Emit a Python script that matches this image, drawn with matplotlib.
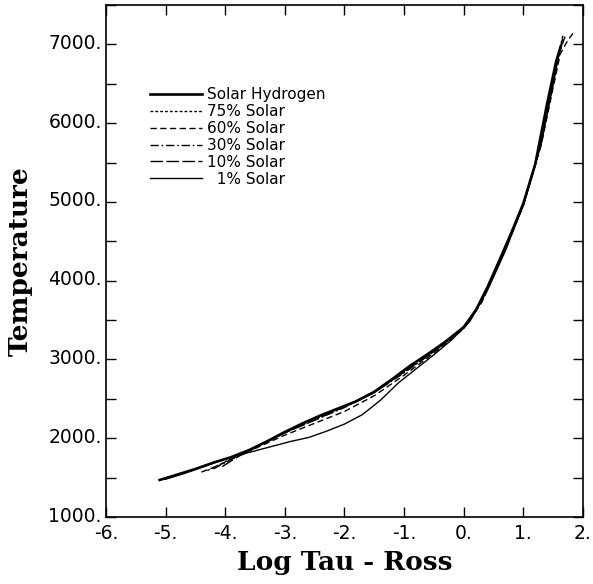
import matplotlib.pyplot as plt
from matplotlib.ticker import FuncFormatter, MultipleLocator
from matplotlib.transforms import ScaledTranslation

# log tau (Rosseland) vs temperature
solar_x = [-5.1, -4.8, -4.5, -4.2, -3.9, -3.6, -3.3, -3.0, -2.7, -2.4, -2.1, -1.8, -1.5,
           -1.2, -0.9, -0.6, -0.3, 0.0, 0.2, 0.4, 0.6, 0.8, 1.0, 1.2, 1.4, 1.55, 1.63]
solar_t = [1470, 1540, 1610, 1690, 1760, 1850, 1960, 2080, 2190, 2290, 2380, 2470, 2590,
           2750, 2920, 3070, 3230, 3410, 3620, 3920, 4260, 4610, 4980, 5480, 6250, 6780, 6980]

s75_x = [-4.3, -4.0, -3.75, -3.5, -3.0, -2.5, -2.0, -1.5, -1.0, -0.5, 0.0, 0.3, 0.6,
         1.0, 1.3, 1.5, 1.6, 1.67]
s75_t = [1590, 1700, 1790, 1890, 2070, 2240, 2400, 2580, 2840, 3100, 3400, 3750, 4240,
         4960, 5740, 6500, 6900, 7130]

s60_x = [-4.4, -4.1, -3.8, -3.5, -3.0, -2.5, -2.0, -1.5, -1.0, -0.5, 0.0, 0.3, 0.6,
         1.0, 1.3, 1.5, 1.62, 1.73, 1.84]
s60_t = [1570, 1660, 1770, 1870, 2040, 2190, 2340, 2540, 2800, 3080, 3390, 3720, 4230,
         4950, 5720, 6450, 6880, 7030, 7150]

s30_x = [-4.2, -3.9, -3.7, -3.5, -3.0, -2.5, -2.0, -1.5, -1.0, -0.5, 0.0, 0.3, 0.6,
         1.0, 1.3, 1.5, 1.6, 1.7]
s30_t = [1610, 1730, 1800, 1880, 2070, 2230, 2390, 2580, 2830, 3100, 3400, 3740, 4230,
         4960, 5740, 6500, 6880, 7100]

s10_x = [-4.05, -3.8, -3.5, -3.0, -2.5, -2.0, -1.5, -1.0, -0.5, 0.0, 0.3, 0.6,
         1.0, 1.3, 1.5, 1.6, 1.66]
s10_t = [1640, 1760, 1880, 2070, 2230, 2400, 2590, 2840, 3110, 3410, 3740, 4240,
         4960, 5740, 6500, 6880, 7080]

s1_x = [-5.0, -4.7, -4.4, -4.1, -3.8, -3.5, -3.2, -2.9, -2.6, -2.3, -2.0, -1.7, -1.4,
        -1.1, -0.8, -0.5, -0.2, 0.1, 0.4, 0.7, 1.0, 1.2, 1.4, 1.55, 1.6]
s1_t = [1480, 1550, 1630, 1710, 1780, 1840, 1900, 1960, 2010, 2090, 2180, 2300, 2480,
        2700, 2880, 3060, 3250, 3480, 3880, 4380, 4960, 5480, 6220, 6760, 6900]

plt.rcParams['font.family'] = 'DejaVu Sans'
fig = plt.figure(figsize=(5.93, 5.84), dpi=100)
ax = fig.add_axes([0.1788, 0.1147, 0.8042, 0.8767])

ax.plot(solar_x, solar_t, color='black', linewidth=1.9, label='Solar Hydrogen')
ax.plot(s75_x, s75_t, color='black', linewidth=1.0, dashes=(2, 1.5), label='75% Solar')
ax.plot(s60_x, s60_t, color='black', linewidth=1.0, dashes=(4.5, 2.5), label='60% Solar')
ax.plot(s30_x, s30_t, color='black', linewidth=1.0, dashes=(6, 2, 1.2, 2), label='30% Solar')
ax.plot(s10_x, s10_t, color='black', linewidth=1.0, dashes=(9, 2.5), label='10% Solar')
ax.plot(s1_x, s1_t, color='black', linewidth=1.0, label='  1% Solar')

ax.set_xlim(-6, 2)
ax.set_ylim(1000, 7500)
ax.xaxis.set_major_locator(MultipleLocator(1))
ax.yaxis.set_major_locator(MultipleLocator(500))
ax.xaxis.set_major_formatter(FuncFormatter(lambda v, p: f"{v:.0f}."))
ax.yaxis.set_major_formatter(FuncFormatter(lambda v, p: f"{v:.0f}." if v % 1000 == 0 else ""))
ax.tick_params(direction='in', top=True, right=True, length=7, width=1, labelsize=13.5)
ax.tick_params(axis='x', pad=5)
ax.tick_params(axis='y', pad=3)
for s in ax.spines.values():
    s.set_linewidth(1.2)

# lift the y labels a touch so "1000." clears "-6."
lift = ScaledTranslation(0, 3 / 100, fig.dpi_scale_trans)
for lab in ax.get_yticklabels():
    lab.set_transform(lab.get_transform() + lift)

ax.set_xlabel("Log Tau - Ross", family='DejaVu Serif', fontweight='bold', fontsize=19, labelpad=5)
ax.set_ylabel("Temperature", family='DejaVu Serif', fontweight='bold', fontsize=19, labelpad=11)

ax.legend(loc='upper left', bbox_to_anchor=(0.07, 0.86), frameon=False, fontsize=11,
          handlelength=3.4, handletextpad=0.3, labelspacing=0.12, borderpad=0.2)

fig.savefig('out.png', dpi=100)
